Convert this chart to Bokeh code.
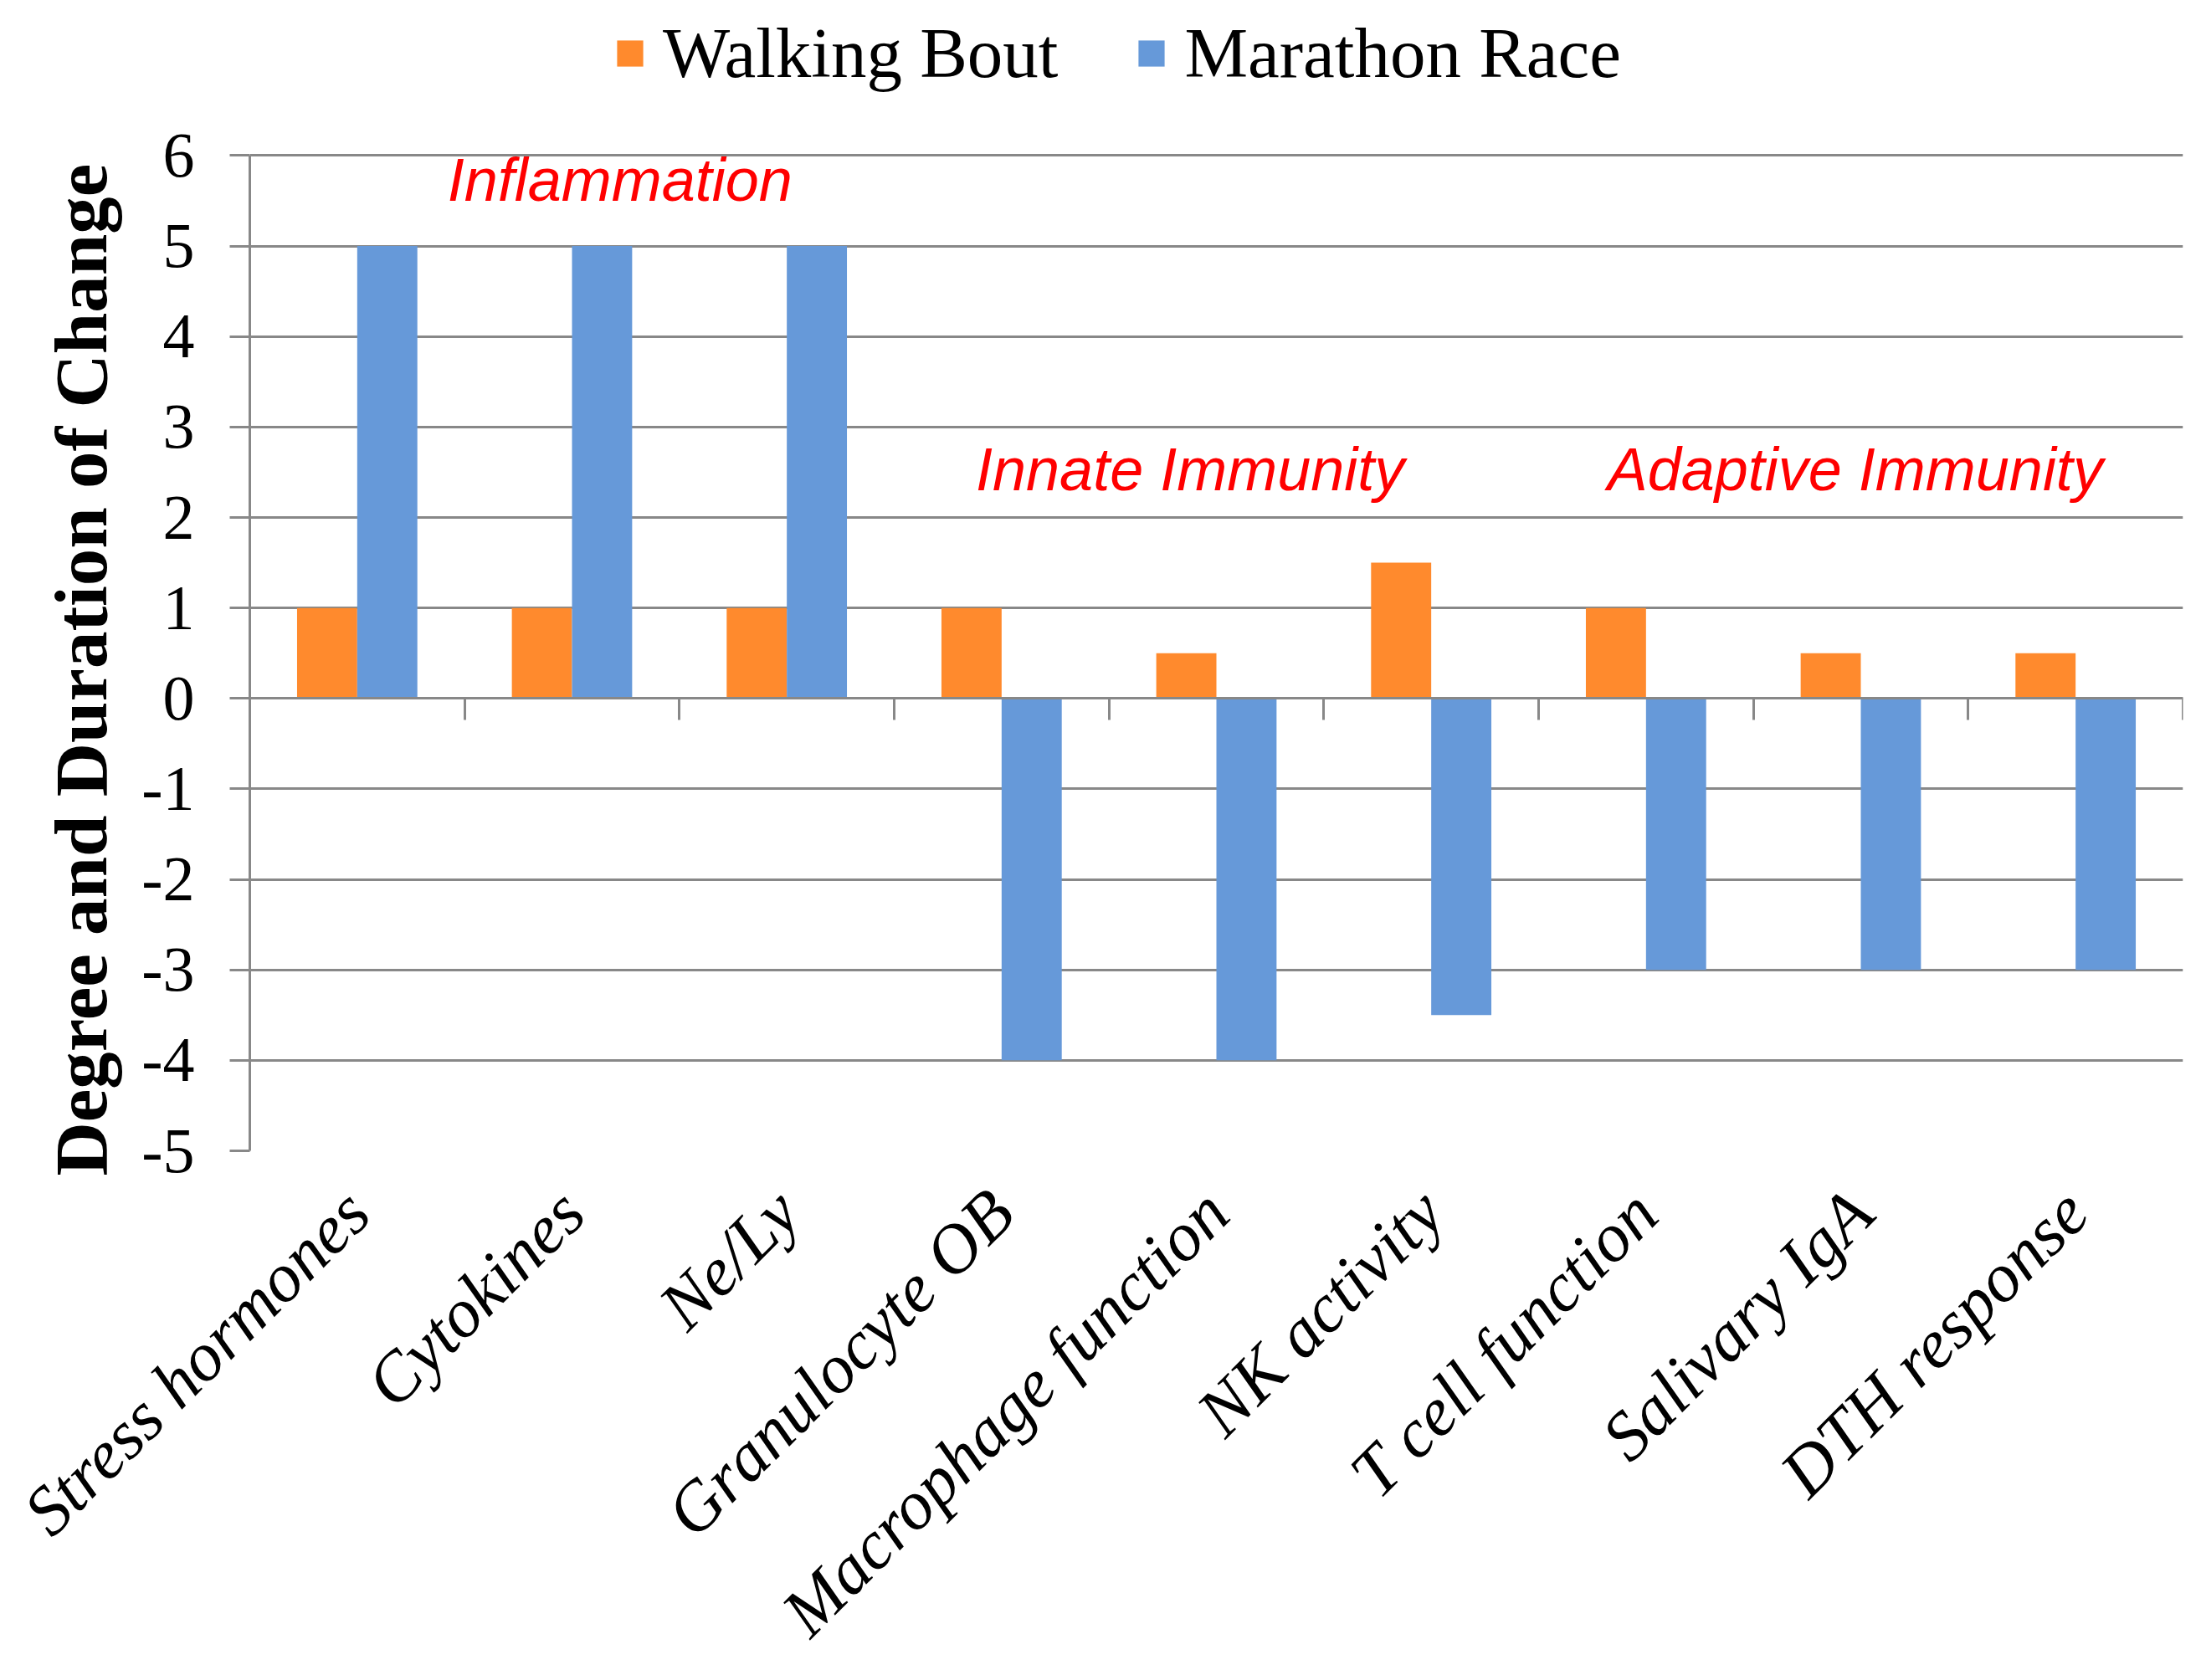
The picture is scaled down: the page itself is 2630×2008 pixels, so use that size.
from math import pi
from bokeh.plotting import figure
from bokeh.models import (Range1d, LinearAxis, FixedTicker, Legend, LegendItem,
                          Label, ColumnDataSource, Title)
from bokeh.transform import dodge
from bokeh.embed import file_html
from bokeh.resources import INLINE

# ---- data ----
categories = ["Stress hormones", "Cytokines", "Ne/Ly", "Granulocyte OB",
              "Macrophage function", "NK activity", "T cell function",
              "Salivary IgA", "DTH response"]
walking_bout = [1, 1, 1, 1, 0.5, 1.5, 1, 0.5, 0.5]
marathon_race = [5, 5, 5, -4, -4, -3.5, -3, -3, -3]
y_ticks = [-5, -4, -3, -2, -1, 0, 1, 2, 3, 4, 5, 6]
y_tick_labels = ["-5", "-4", "-3", "-2", "-1", "0", "1", "2", "3", "4", "5", "6"]
series_names = ["Walking Bout", "Marathon Race"]
group_labels = ["Inflammation", "Innate Immunity", "Adaptive Immunity"]
y_title = "Degree and Duration of Change"

ORANGE = "#FF8A2D"
BLUE = "#6699D9"
GREY = "#888888"
SERIF = "Liberation Serif"

# layout (pixels): plot frame runs from the top of the canvas down to y=1379,
# the value axis itself spans -5..6 (top gridline at y=186)
TOP, AX_TOP, BOTTOM = 4, 186, 1379
y_lo, y_hi = y_ticks[0], y_ticks[-1]
y_end = y_lo + (BOTTOM - TOP) * (y_hi - y_lo) / (BOTTOM - AX_TOP)

positions = list(range(1, len(categories) + 1))
src = ColumnDataSource(dict(x=positions, walk=walking_bout, mara=marathon_race))

p = figure(width=2630, height=2008, output_backend="svg", toolbar_location=None,
           x_range=Range1d(0.5, len(categories) + 0.5),
           y_range=Range1d(y_lo, y_end),
           min_border_left=298, min_border_right=22, min_border_top=TOP,
           min_border_bottom=2008 - BOTTOM)
p.outline_line_color = None
p.background_fill_color = "white"

r1 = p.vbar(x=dodge("x", -0.14, range=p.x_range), top="walk", width=0.28,
            source=src, fill_color=ORANGE, line_color=None)
r2 = p.vbar(x=dodge("x", 0.14, range=p.x_range), top="mara", width=0.28,
            source=src, fill_color=BLUE, line_color=None)

# grids
p.xgrid.visible = False
p.ygrid.ticker = FixedTicker(ticks=y_ticks)
p.ygrid.grid_line_color = GREY
p.ygrid.grid_line_width = 3

# y axis
ya = p.yaxis[0]
ya.bounds = (y_lo, y_hi)
ya.ticker = FixedTicker(ticks=y_ticks)
ya.major_label_overrides = {t: s for t, s in zip(y_ticks, y_tick_labels)}
ya.axis_line_color = GREY
ya.axis_line_width = 3
ya.major_tick_line_color = GREY
ya.major_tick_line_width = 3
ya.major_tick_out = 24
ya.major_tick_in = 0
ya.minor_tick_line_color = None
ya.major_label_text_font = SERIF
ya.major_label_text_font_size = "76px"
ya.major_label_text_color = "black"
ya.major_label_standoff = 42

# y title (side title, anchored near the bottom of the value axis)
p.add_layout(Title(text=y_title, text_font=SERIF, text_font_style="bold",
                   text_font_size="89px", text_color="black", align="left",
                   offset=-30, standoff=41), "left")

# category labels axis at bottom
xa = p.xaxis[0]
xa.ticker = FixedTicker(ticks=positions)
xa.major_label_overrides = {t: c for t, c in zip(positions, categories)}
xa.major_label_orientation = pi / 4
xa.axis_line_color = None
xa.major_tick_line_color = None
xa.minor_tick_line_color = None
xa.major_label_text_font = SERIF
xa.major_label_text_font_style = "italic"
xa.major_label_text_font_size = "83px"
xa.major_label_text_line_height = 1.0
xa.major_label_text_color = "black"
xa.major_label_standoff = 54

# tick marks on the zero line between categories
bounds = [x + 0.5 for x in range(0, len(categories) + 1)]
za = LinearAxis(fixed_location=0, ticker=FixedTicker(ticks=bounds))
za.major_label_overrides = {b: "" for b in bounds}
za.axis_line_color = GREY
za.axis_line_width = 3
za.major_tick_line_color = GREY
za.major_tick_line_width = 3
za.major_tick_out = 26
za.major_tick_in = 0
za.minor_tick_line_color = None
za.major_label_text_font_size = "1px"
p.add_layout(za, "below")

# group annotations
label_pos = [(1.42, 5.73), (3.88, 2.53), (6.82, 2.53)]
for txt, (lx, ly) in zip(group_labels, label_pos):
    p.add_layout(Label(x=lx, y=ly, text=txt, text_font="Liberation Sans",
                       text_font_style="italic", text_font_size="72px",
                       text_color="#FF0000", text_baseline="middle",
                       text_align="left"))

legend = Legend(items=[LegendItem(label=series_names[0], renderers=[r1]),
                       LegendItem(label=series_names[1], renderers=[r2])],
                orientation="horizontal", location=(435, 1263))
legend.label_text_font = SERIF
legend.label_text_font_size = "85px"
legend.label_text_color = "black"
legend.glyph_width = 39
legend.glyph_height = 39
legend.label_standoff = 20
legend.spacing = 92
legend.padding = 0
legend.margin = 0
legend.border_line_color = None
legend.background_fill_alpha = 0
p.add_layout(legend, "center")

open("out.html", "w").write(file_html(p, INLINE))
